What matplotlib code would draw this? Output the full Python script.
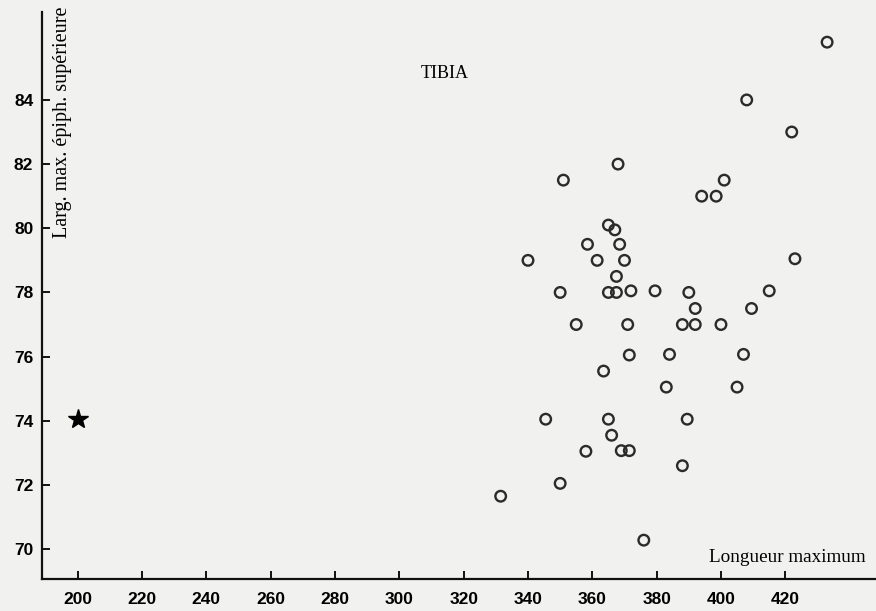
import numpy as np
import matplotlib.pyplot as plt

longueur = [433, 408, 422, 368, 351, 401, 394, 398.5, 365, 367,
            358.5, 368.5, 340, 361.5, 370, 423, 367.5, 350, 365, 367.5,
            372, 379.5, 390, 415, 392, 409.5, 355, 371, 388, 392,
            400, 371.5, 384, 407, 363.5, 383, 405, 345.5, 365, 389.5,
            366, 358, 369, 371.5, 388, 350, 331.5, 376]
largeur = [85.8, 84.0, 83.0, 82.0, 81.5, 81.5, 81.0, 81.0, 80.1, 79.95,
           79.5, 79.5, 79.0, 79.0, 79.0, 79.05, 78.5, 78.0, 78.0, 78.0,
           78.05, 78.05, 78.0, 78.05, 77.5, 77.5, 77.0, 77.0, 77.0, 77.0,
           77.0, 76.05, 76.07, 76.07, 75.55, 75.05, 75.05, 74.05, 74.05, 74.05,
           73.55, 73.05, 73.07, 73.07, 72.6, 72.05, 71.65, 70.28]

# the single specimen marked with a star
star_x = [200]
star_y = [74.05]

xticks = [200, 220, 240, 260, 280, 300, 320, 340, 360, 380, 400, 420]
yticks = [70, 72, 74, 76, 78, 80, 82, 84]

bg = '#f1f1f0'
fig = plt.figure(figsize=(8.76, 6.11), dpi=100, facecolor=bg)
ax = fig.add_axes([41.7/876, 32/611, 1 - 41.7/876, (579 - 12)/611])
ax.set_facecolor(bg)

ax.scatter(longueur, largeur, s=58, facecolors='none', edgecolors='#2b2b2b',
           linewidths=1.7, zorder=3)
ax.plot(star_x, star_y, marker='*', color='black', markersize=15,
        linestyle='none', zorder=3)

ax.set_xlim(188.8, 448.2)
ax.set_ylim(69.07, 86.74)

for side in ['top', 'right']:
    ax.spines[side].set_visible(False)
for side in ['left', 'bottom']:
    ax.spines[side].set_linewidth(1.6)
    ax.spines[side].set_color('#111111')

ax.set_xticks(xticks)
ax.set_yticks(yticks)
ax.tick_params(direction='in', length=6, width=1.4, color='#111111')
ax.tick_params(axis='x', pad=9)
ax.tick_params(axis='y', pad=6)
for lab in ax.get_xticklabels() + ax.get_yticklabels():
    lab.set_fontfamily('Liberation Sans')
    lab.set_fontweight('bold')
    lab.set_fontsize(12.5)

fig.text(445/876, 1 - 73/611, 'TIBIA', family='Liberation Serif',
         fontsize=13, ha='center', va='center')
fig.text(787/876, 1 - 557/611, 'Longueur maximum', family='Liberation Serif',
         fontsize=13.8, ha='center', va='center')
fig.text(62/876, 1 - 122/611, 'Larg. max. épiph. supérieure',
         family='Liberation Serif', fontsize=14.5, rotation=90,
         ha='center', va='center')

fig.savefig('out.png', dpi=100, facecolor=bg)
